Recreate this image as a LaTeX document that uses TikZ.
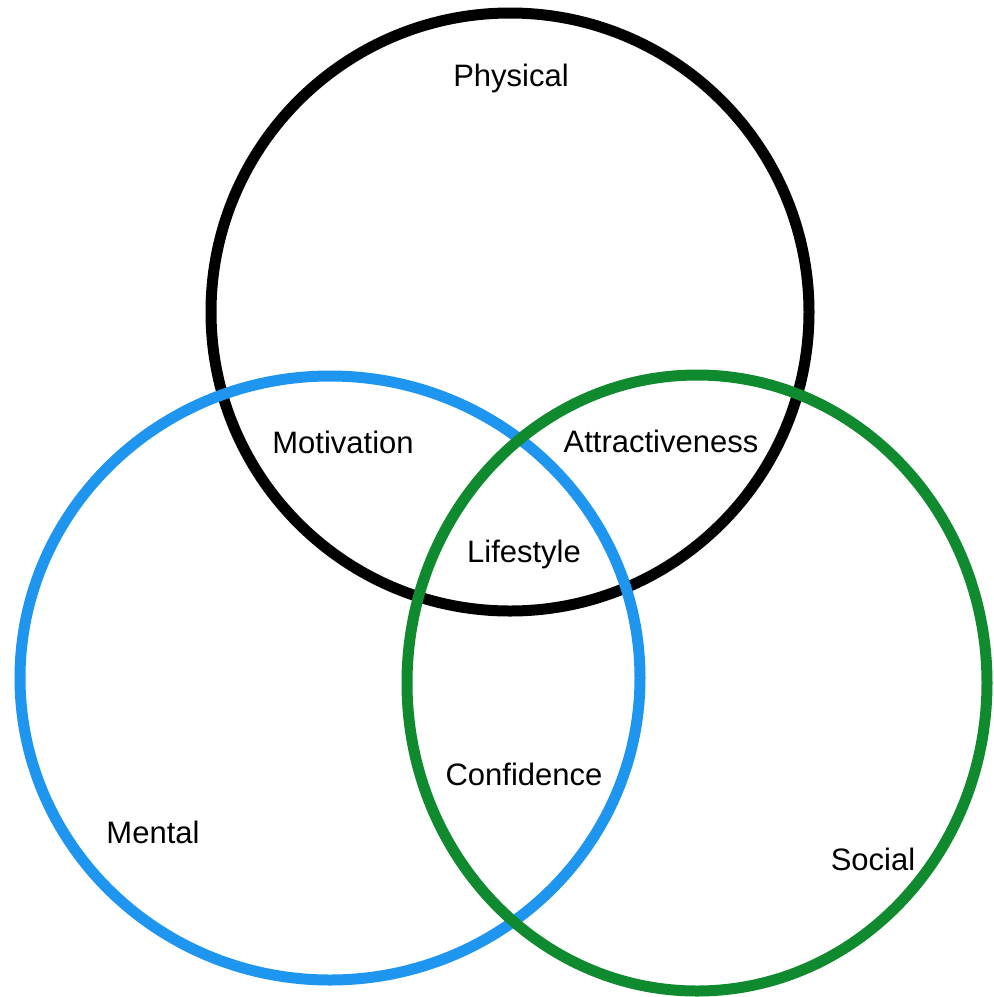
\documentclass[tikz,border=0pt]{standalone}
\usepackage{fontspec}
\setmainfont{Liberation Sans}
\definecolor{vblue}{RGB}{30,150,240}
\definecolor{vgreen}{RGB}{16,138,46}
\begin{document}
\begin{tikzpicture}[x=1pt,y=-1pt,
  ring/.style={line width=11pt},
  lbl/.style={font=\fontsize{31}{36}\selectfont, anchor=base, inner sep=0pt}]
\useasboundingbox (0,0) rectangle (994,997);
\fill[white] (0,0) rectangle (994,997);
\draw[ring, black] (510,312) ellipse [x radius=299, y radius=299];
\draw[ring, vblue] (330,678) ellipse [x radius=310, y radius=302];
\draw[ring, vgreen] (697,683) ellipse [x radius=290, y radius=308];
\node[lbl] (phys) at (511,86) {Physical};
\node[lbl] (moti) at (343,453) {Motivation};
\node[lbl] (attr) at (661,452) {Attractiveness};
\node[lbl] (life) at (524,562) {Lifestyle};
\node[lbl] (conf) at (524,785) {Confidence};
\node[lbl] (ment) at (153,843) {Mental};
\node[lbl] (soci) at (873,870) {Social};
\end{tikzpicture}
\end{document}
